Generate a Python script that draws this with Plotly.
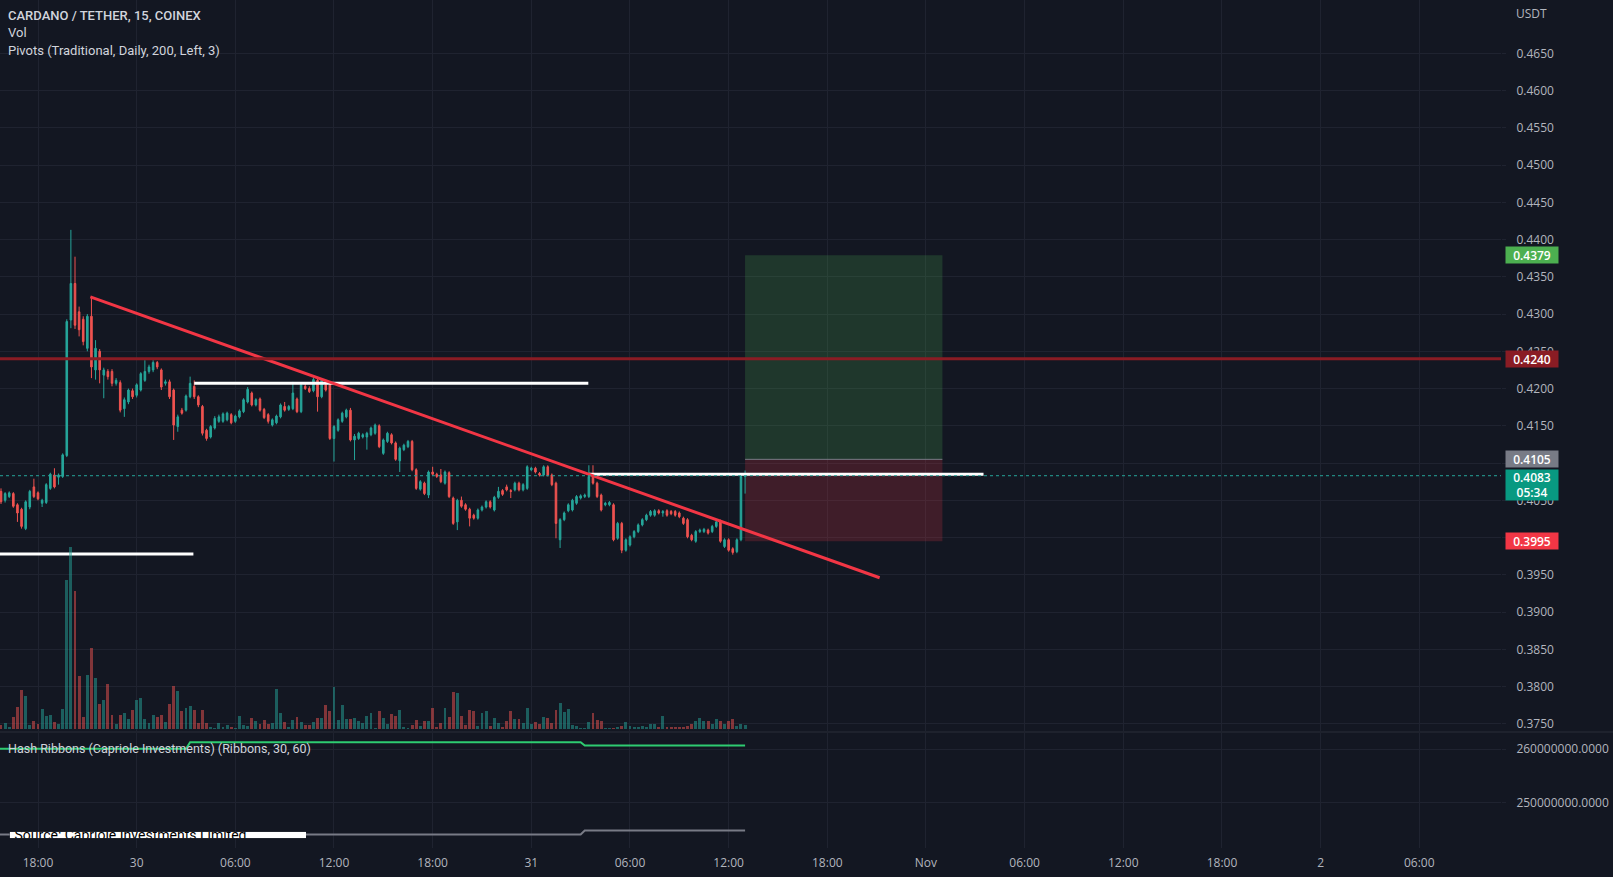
import plotly.graph_objects as go
import pandas as pd

# ---------------- data ----------------
start_time = "2022-10-29 15:45"

opens = [
    .4062, .4050, .4055, .4059, .4044, .4038, .4012, .4041, .4068, .4060,
    .4046, .4047, .4066, .4084, .4081, .4082, .4110, .4292, .4341, .4303,
    .4293, .4254, .4297, .4225, .4250, .4218, .4223, .4223, .4207, .4208,
    .4173, .4182, .4197, .4191, .4198, .4211, .4223, .4225, .4235, .4225,
    .4207, .4209, .4198, .4149, .4171, .4171, .4189, .4203, .4189, .4176,
    .4144, .4135, .4147, .4156, .4156, .4158, .4165, .4156, .4162, .4169,
    .4182, .4194, .4178, .4186, .4172, .4165, .4151, .4154, .4162, .4176,
    .4172, .4173, .4186, .4169, .4203, .4200, .4197, .4211, .4189, .4205,
    .4205, .4133, .4144, .4156, .4162, .4171, .4131, .4133, .4135, .4135,
    .4138, .4140, .4150, .4113, .4129, .4138, .4127, .4103, .4118, .4122,
    .4129, .4091, .4065, .4073, .4057, .4088, .4085, .4084, .4073, .4087,
    .4053, .4021, .4050, .4044, .4038, .4030, .4026, .4037, .4041, .4048,
    .4037, .4054, .4063, .4068, .4063, .4064, .4073, .4064, .4066, .4091,
    .4093, .4086, .4084, .4095, .4084, .4073, .3997, .4024, .4036, .4037,
    .4046, .4053, .4055, .4055, .4086, .4073, .4057, .4044, .4044, .4044,
    .3999, .4019, .3983, .3990, .4001, .4008, .4017, .4024, .4030, .4030,
    .4036, .4033, .4036, .4035, .4035, .4033, .4026, .4024, .4003, .3995,
    .4008, .4008, .4010, .4008, .4015, .4021, .3988, .3997, .3985, .3981,
    .3997, .4082]

highs = [
    .4066, .4061, .4062, .4061, .4046, .4040, .4050, .4064, .4079, .4062,
    .4052, .4073, .4087, .4093, .4086, .4113, .4293, .4413, .4377, .4310,
    .4297, .4300, .4323, .4265, .4253, .4228, .4226, .4226, .4214, .4211,
    .4188, .4200, .4200, .4207, .4222, .4238, .4232, .4238, .4237, .4227,
    .4212, .4212, .4200, .4165, .4174, .4192, .4216, .4211, .4191, .4178,
    .4146, .4151, .4163, .4165, .4168, .4169, .4167, .4165, .4172, .4187,
    .4202, .4196, .4187, .4188, .4174, .4167, .4160, .4165, .4180, .4182,
    .4178, .4209, .4188, .4208, .4206, .4203, .4215, .4214, .4214, .4208,
    .4208, .4151, .4160, .4169, .4173, .4174, .4139, .4142, .4140, .4142,
    .4149, .4153, .4152, .4133, .4142, .4140, .4129, .4122, .4126, .4131,
    .4131, .4093, .4077, .4075, .4090, .4095, .4087, .4092, .4090, .4089,
    .4055, .4052, .4055, .4046, .4040, .4032, .4039, .4043, .4050, .4050,
    .4056, .4068, .4065, .4071, .4065, .4075, .4075, .4073, .4097, .4095,
    .4095, .4088, .4097, .4097, .4086, .4075, .4026, .4035, .4046, .4052,
    .4057, .4058, .4059, .4097, .4097, .4075, .4059, .4048, .4049, .4046,
    .4021, .4021, .3999, .4003, .4010, .4019, .4026, .4032, .4037, .4038,
    .4038, .4037, .4038, .4037, .4037, .4035, .4028, .4026, .4005, .4010,
    .4012, .4013, .4012, .4017, .4024, .4024, .3999, .3999, .3987, .3999,
    .4085, .4090]

lows = [
    .4045, .4047, .4053, .4040, .4021, .4012, .4010, .4038, .4053, .4050,
    .4041, .4045, .4064, .4066, .4071, .4080, .4108, .4281, .4280, .4270,
    .4258, .4250, .4214, .4212, .4207, .4187, .4212, .4203, .4204, .4168,
    .4162, .4179, .4186, .4188, .4196, .4209, .4220, .4222, .4226, .4198,
    .4204, .4186, .4131, .4142, .4165, .4169, .4187, .4186, .4175, .4137,
    .4130, .4133, .4145, .4154, .4154, .4156, .4152, .4154, .4160, .4167,
    .4180, .4176, .4176, .4169, .4159, .4153, .4149, .4152, .4160, .4169,
    .4170, .4171, .4167, .4167, .4198, .4194, .4195, .4169, .4187, .4196,
    .4131, .4102, .4142, .4154, .4160, .4129, .4104, .4131, .4133, .4118,
    .4136, .4138, .4120, .4111, .4127, .4125, .4103, .4088, .4116, .4120,
    .4089, .4064, .4063, .4057, .4053, .4083, .4080, .4073, .4071, .4053,
    .4017, .4010, .4040, .4036, .4015, .4024, .4024, .4035, .4039, .4039,
    .4035, .4052, .4056, .4062, .4053, .4062, .4062, .4062, .4064, .4089,
    .4086, .4082, .4082, .4082, .4069, .3999, .3986, .4022, .4034, .4035,
    .4044, .4051, .4053, .4053, .4071, .4053, .4035, .4042, .4042, .3995,
    .3997, .3979, .3981, .3988, .3999, .4006, .4015, .4022, .4028, .4028,
    .4031, .4028, .4028, .4030, .4028, .4026, .4017, .3999, .3995, .3993,
    .4006, .4006, .4004, .4006, .4013, .3993, .3986, .3981, .3977, .3979,
    .3995, .4059]

closes = [
    .4048, .4059, .4060, .4042, .4033, .4015, .4048, .4062, .4055, .4052,
    .4050, .4071, .4085, .4068, .4084, .4111, .4290, .4341, .4285, .4279,
    .4263, .4297, .4229, .4254, .4225, .4225, .4216, .4207, .4211, .4171,
    .4185, .4198, .4189, .4205, .4220, .4223, .4229, .4235, .4229, .4202,
    .4209, .4189, .4151, .4162, .4167, .4190, .4207, .4189, .4178, .4140,
    .4133, .4149, .4160, .4162, .4166, .4167, .4154, .4163, .4170, .4185,
    .4199, .4178, .4185, .4171, .4161, .4156, .4158, .4163, .4178, .4171,
    .4176, .4194, .4169, .4205, .4200, .4196, .4212, .4189, .4211, .4198,
    .4133, .4149, .4158, .4167, .4171, .4131, .4136, .4140, .4138, .4140,
    .4147, .4151, .4122, .4131, .4140, .4127, .4105, .4120, .4124, .4129,
    .4091, .4066, .4075, .4059, .4088, .4085, .4082, .4075, .4088, .4055,
    .4019, .4050, .4042, .4038, .4026, .4026, .4037, .4041, .4048, .4041,
    .4054, .4062, .4058, .4064, .4062, .4073, .4064, .4071, .4095, .4093,
    .4088, .4084, .4095, .4084, .4071, .4019, .4024, .4033, .4044, .4050,
    .4055, .4056, .4057, .4082, .4073, .4055, .4037, .4046, .4047, .3997,
    .4019, .3983, .3997, .4001, .4008, .4017, .4024, .4030, .4035, .4036,
    .4033, .4035, .4030, .4032, .4030, .4028, .4019, .4001, .3997, .4008,
    .4010, .4011, .4006, .4015, .4021, .3995, .3997, .3983, .3980, .3997,
    .4082, .4083]

volumes = [
    13, 18, 8, 38, 68, 118, 100, 13, 25, 16,
    60, 40, 43, 23, 15, 60, 448, 548, 415, 160,
    38, 163, 243, 155, 76, 88, 136, 43, 16, 43,
    48, 31, 58, 88, 95, 30, 18, 43, 36, 43,
    23, 75, 131, 115, 55, 65, 70, 58, 18, 58,
    18, 6, 5, 20, 8, 13, 8, 5, 40, 13,
    10, 33, 25, 15, 28, 15, 18, 121, 50, 23,
    8, 28, 38, 23, 13, 13, 23, 35, 35, 73,
    56, 128, 28, 73, 31, 31, 33, 25, 18, 40,
    50, 3, 56, 33, 16, 45, 40, 58, 8, 5,
    13, 28, 10, 26, 25, 63, 8, 18, 65, 38,
    111, 110, 40, 13, 58, 56, 10, 50, 55, 10,
    33, 20, 8, 25, 56, 30, 30, 18, 63, 16,
    23, 16, 38, 35, 18, 58, 80, 53, 61, 13,
    11, 3, 5, 23, 48, 28, 25, 5, 5, 5,
    8, 11, 23, 11, 8, 8, 11, 8, 15, 16,
    8, 40, 8, 8, 8, 8, 8, 10, 15, 26,
    33, 25, 25, 16, 30, 25, 16, 25, 30, 11,
    15, 13]

price_ticks = [0.3750, 0.3800, 0.3850, 0.3900, 0.3950, 0.4000, 0.4050, 0.4100,
               0.4150, 0.4200, 0.4250, 0.4300, 0.4350, 0.4400, 0.4450, 0.4500,
               0.4550, 0.4600, 0.4650]
price_tick_labels = ["0.3750", "0.3800", "0.3850", "0.3900", "0.3950", "", "0.4050", "",
                     "0.4150", "0.4200", "0.4250", "0.4300", "0.4350", "0.4400", "0.4450",
                     "0.4500", "0.4550", "0.4600", "0.4650"]
time_ticks = ["2022-10-29 18:00", "2022-10-30 00:00", "2022-10-30 06:00", "2022-10-30 12:00",
              "2022-10-30 18:00", "2022-10-31 00:00", "2022-10-31 06:00", "2022-10-31 12:00",
              "2022-10-31 18:00", "2022-11-01 00:00", "2022-11-01 06:00", "2022-11-01 12:00",
              "2022-11-01 18:00", "2022-11-02 00:00", "2022-11-02 06:00"]
time_labels = ["18:00", "30", "06:00", "12:00", "18:00", "31", "06:00", "12:00",
               "18:00", "Nov", "06:00", "12:00", "18:00", "2", "06:00"]

hash_times = ["2022-10-29 15:30", "2022-10-30 03:00", "2022-10-30 03:15",
              "2022-10-31 03:00", "2022-10-31 03:15", "2022-10-31 13:00"]
hash_fast = [260.04e6, 260.04e6, 261.27e6, 261.27e6, 260.65e6, 260.65e6]
hash_slow = [244.08e6, 244.08e6, 244.08e6, 244.08e6, 244.83e6, 244.83e6]
hash_ticks = [250000000, 260000000]
hash_tick_labels = ["250000000.0000", "260000000.0000"]

trend_times = ["2022-10-29 21:11", "2022-10-31 21:11"]
trend_prices = [0.4323, 0.3946]

pivot_starts = ["2022-10-29 03:30", "2022-10-30 03:30", "2022-10-31 03:30"]
pivot_ends = ["2022-10-30 03:27", "2022-10-31 03:28", "2022-11-01 03:30"]
pivot_levels = [0.3978, 0.4207, 0.4085]

resistance_level = 0.4240
pos_start, pos_end = "2022-10-31 13:00", "2022-11-01 01:00"
pos_target, pos_entry, pos_stop = 0.4379, 0.4105, 0.3995
countdown = "05:34"

x_range = ["2022-10-29 15:41:20", "2022-11-02 10:58:12"]

# ---------------- style ----------------
BG = "#131722"
GRID = "#1f2330"
TXT = "#b2b5be"
TXT2 = "#d1d4dc"
UP = "#26a69a"
DOWN = "#ef5350"
FONT = "Open Sans"
LFONT = "Roboto"

W, H = 1613, 877
ML, MR, MT, MB = 0, 112, 0, 29
PW, PH = W - ML - MR, H - MT - MB


def px_x(x):
    return x / PW


def px_y(y):
    return 1 - y / PH


times = pd.date_range(start_time, periods=len(opens), freq="15min")
vol_colors = ["rgba(38,166,154,0.5)" if c >= o else "rgba(239,83,80,0.5)"
              for o, c in zip(opens, closes)]

fig = go.Figure()

# volume
fig.add_trace(go.Bar(x=times, y=volumes, marker=dict(color=vol_colors, line=dict(width=0)),
                     width=15 * 60 * 1000 * 0.72, xaxis="x", yaxis="y2", hoverinfo="skip"))

# candles
fig.add_trace(go.Candlestick(
    x=times, open=opens, high=highs, low=lows, close=closes,
    increasing=dict(line=dict(color=UP, width=1), fillcolor=UP),
    decreasing=dict(line=dict(color=DOWN, width=1), fillcolor=DOWN),
    whiskerwidth=0, xaxis="x", yaxis="y"))

# pivots
for s, e, lv in zip(pivot_starts, pivot_ends, pivot_levels):
    fig.add_trace(go.Scatter(x=[s, e], y=[lv, lv], mode="lines",
                             line=dict(color="#ffffff", width=3), xaxis="x", yaxis="y",
                             hoverinfo="skip"))

# trendline
fig.add_trace(go.Scatter(x=trend_times, y=trend_prices, mode="lines",
                         line=dict(color="#f23645", width=3), xaxis="x", yaxis="y",
                         hoverinfo="skip"))

# position entry line
fig.add_trace(go.Scatter(x=[pos_start, pos_end], y=[pos_entry, pos_entry], mode="lines",
                         line=dict(color="#787b86", width=1), xaxis="x", yaxis="y",
                         hoverinfo="skip"))

# hash ribbons
fig.add_trace(go.Scatter(x=hash_times, y=hash_fast, mode="lines",
                         line=dict(color="#2ecc71", width=2), xaxis="x", yaxis="y3",
                         hoverinfo="skip"))
fig.add_trace(go.Scatter(x=hash_times, y=hash_slow, mode="lines",
                         line=dict(color="#787b86", width=2), xaxis="x", yaxis="y3",
                         hoverinfo="skip"))

# clipped source label
fig.add_trace(go.Scatter(x=[4.8], y=[0.25], mode="text",
                         text=["Source: Capriole Investments Limited"],
                         textposition="middle right",
                         textfont=dict(color="#000000", size=14, family=LFONT),
                         cliponaxis=True, xaxis="x2", yaxis="y4", hoverinfo="skip"))

shapes = [
    # position tool
    dict(type="rect", xref="x", yref="y", x0=pos_start, x1=pos_end, y0=pos_entry, y1=pos_target,
         fillcolor="rgba(76,175,80,0.22)", line=dict(width=0), layer="between"),
    dict(type="rect", xref="x", yref="y", x0=pos_start, x1=pos_end, y0=pos_stop, y1=pos_entry,
         fillcolor="rgba(242,54,69,0.2)", line=dict(width=0), layer="between"),
    # resistance line
    dict(type="line", xref="paper", yref="y", x0=0, x1=1, y0=resistance_level, y1=resistance_level,
         line=dict(color="#8a1c24", width=3), layer="above"),
    # current price
    dict(type="line", xref="paper", yref="y", x0=0, x1=1, y0=closes[-1], y1=closes[-1],
         line=dict(color=UP, width=1, dash="dot"), layer="above"),
    # pane separator
    dict(type="line", xref="paper", yref="paper", x0=0, x1=W / PW, y0=px_y(732), y1=px_y(732),
         line=dict(color="#2a2e39", width=1)),
    # white source box
    dict(type="rect", xref="x2", yref="y4", x0=0, x1=296.3, y0=0, y1=1,
         fillcolor="#ffffff", line=dict(width=0), layer="below"),
]

annotations = []


def top_text(txt, y, weight=400, size=13):
    annotations.append(dict(text=txt, xref="paper", yref="paper", x=px_x(6), y=px_y(y),
                            xanchor="left", yanchor="middle", showarrow=False,
                            font=dict(color=TXT2, size=size, family=LFONT, weight=weight)))


top_text("CARDANO / TETHER, 15, COINEX", 16, 500)
top_text("Vol", 33)
top_text("Pivots (Traditional, Daily, 200, Left, 3)", 50)
top_text("Hash Ribbons (Capriole Investments) (Ribbons, 30, 60)", 748, 400, 12.5)
annotations.append(dict(text="USDT", xref="paper", yref="paper", x=px_x(1514), y=px_y(14),
                        xanchor="left", yanchor="middle", showarrow=False,
                        font=dict(color=TXT, size=12, family=FONT)))


def price_label(txt, price, color, height=16, yshift=0, yanchor="middle"):
    annotations.append(dict(text=txt, xref="paper", yref="y", x=px_x(1505), y=price,
                            xanchor="left", yanchor=yanchor, yshift=yshift, showarrow=False,
                            bgcolor=color, width=52, height=height, borderpad=0, align="center",
                            font=dict(color="#ffffff", size=12, family=FONT, weight=600)))


price_label(f"{pos_target:.4f}", pos_target, "#4caf50")
price_label(f"{resistance_level:.4f}", resistance_level, "#8a1c24")
price_label(f"{pos_entry:.4f}", pos_entry, "#787b86")
price_label(f"{closes[-1]:.4f}<br>{countdown}", closes[-1], "#089981", height=30, yshift=7,
            yanchor="top")
price_label(f"{pos_stop:.4f}", pos_stop, "#f23645")

y_top, y_bot = 0.465 + 53.3 / 7450, 0.465 - (731 - 53.3) / 7450

fig.update_layout(
    width=W, height=H, margin=dict(l=ML, r=MR, t=MT, b=MB),
    paper_bgcolor=BG, plot_bgcolor=BG, showlegend=False,
    boxgap=0.45, bargap=0,
    font=dict(family=FONT, color=TXT, size=12),
    shapes=shapes, annotations=annotations,
    xaxis=dict(type="date", range=x_range, tickvals=time_ticks, ticktext=time_labels,
               showgrid=True, gridcolor=GRID, gridwidth=1, zeroline=False, showline=False,
               rangeslider=dict(visible=False), anchor="y3", ticks="",
               tickfont=dict(color=TXT, size=12, family=FONT), ticklabelstandoff=6),
    yaxis=dict(domain=[1 - 731 / PH, 1], range=[y_bot, y_top], side="right", anchor="x",
               tickvals=price_ticks, ticktext=price_tick_labels,
               showgrid=True, gridcolor=GRID, zeroline=False, showline=False,
               ticks="outside", ticklen=4, tickcolor=GRID, ticklabelstandoff=8,
               tickfont=dict(color=TXT, size=12, family=FONT)),
    yaxis2=dict(overlaying="y", anchor="x", range=[-5, 2188], visible=False),
    yaxis3=dict(domain=[0, 1 - 733 / PH], range=[241.56e6, 262.98e6], side="right", anchor="x",
                tickvals=hash_ticks, ticktext=hash_tick_labels,
                showgrid=True, gridcolor=GRID, zeroline=False, showline=False,
                ticks="outside", ticklen=4, tickcolor=GRID, ticklabelstandoff=8,
                tickfont=dict(color=TXT, size=12, family=FONT)),
    xaxis2=dict(domain=[9.7 / PW, 306 / PW], range=[0, 296.3], visible=False, anchor="y4"),
    yaxis4=dict(domain=[1 - 838.3 / PH, 1 - 831.7 / PH], range=[0, 1], visible=False,
                anchor="x2"),
)

fig.write_html("out.html")
